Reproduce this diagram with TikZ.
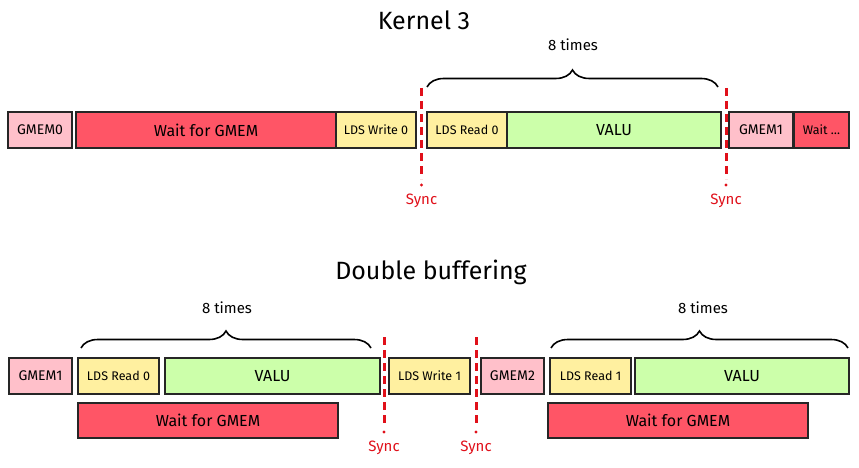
\documentclass[tikz,border=0pt]{standalone}
\usepackage{fontspec}
\setmainfont{Fira Sans}
\usetikzlibrary{decorations.pathreplacing}

\definecolor{gmemc}{HTML}{FFC0CA}
\definecolor{waitc}{HTML}{FF5566}
\definecolor{ldsc}{HTML}{FFF0A0}
\definecolor{valuc}{HTML}{CCFFAA}
\definecolor{syncc}{HTML}{E0101A}

\tikzset{
  blk/.style={draw=black!85, line width=2.2pt, inner sep=0pt, minimum height=36pt,
    font=\fontsize{14}{14}\selectfont},
  gmem/.style={blk, fill=gmemc},
  waitbox/.style={blk, fill=waitc, font=\fontsize{16}{16}\selectfont},
  lds/.style={blk, fill=ldsc, font=\fontsize{12.5}{12.5}\selectfont},
  valu/.style={blk, fill=valuc, font=\fontsize{16}{16}\selectfont},
  syncline/.style={draw=syncc, line width=3pt, dash pattern=on 8pt off 5pt},
  synclbl/.style={text=syncc, font=\fontsize{15}{15}\selectfont},
  loopbrace/.style={decorate, decoration={brace, amplitude=17pt}, line width=1.6pt},
  looplbl/.style={font=\fontsize{15}{15}\selectfont},
  heading/.style={font=\fontsize{25}{25}\selectfont}
}

\begin{document}
\begin{tikzpicture}[x=1pt, y=-1pt]
\useasboundingbox (0,0) rectangle (859,468);
% Kernel 3
\node[heading] (title1) at (424,20) {Kernel 3};
\node[gmem, minimum width=64pt] (gmemA) at (40,130) {GMEM0};
\node[waitbox, minimum width=260pt] (waitA) at (206,130) {Wait for GMEM};
\node[lds, minimum width=80pt] (writeA) at (376,130) {LDS Write 0};
\node[lds, minimum width=80pt] (readA) at (467,130) {LDS Read 0};
\node[valu, minimum width=214pt] (valuA) at (614,130) {VALU};
\node[gmem, minimum width=64pt] (gmemB) at (761,130) {GMEM1};
\node[waitbox, minimum width=55pt, font=\fontsize{12.5}{12.5}\selectfont] (waitB) at (821.5,130) {Wait \dots};
% Loop brace
\coordinate (braceAl) at (427,87);
\coordinate (braceAr) at (718,87);
\draw[loopbrace] (braceAl) -- (braceAr);
\node[looplbl] (timesA) at (573,45) {8 times};
% Sync lines
\coordinate (syncAt) at (421.5,88);
\coordinate (syncAb) at (421.5,179);
\draw[syncline] (syncAt) -- (syncAb);
\fill[syncc] (421.5,185) circle (1.6pt);
\node[synclbl] (syncA) at (421.5,201) {Sync};
\coordinate (syncBt) at (726,88);
\coordinate (syncBb) at (726,179);
\draw[syncline] (syncBt) -- (syncBb);
\fill[syncc] (726,185) circle (1.6pt);
\node[synclbl] (syncB) at (726,201) {Sync};

% Double buffering
\node[heading] (title2) at (431,272) {Double buffering};
\node[gmem, minimum width=63pt] (gmemC) at (40.5,376) {GMEM1};
\node[lds, minimum width=81pt] (readC) at (118.5,376) {LDS Read 0};
\node[valu, minimum width=215pt] (valuC) at (272.5,376) {VALU};
\node[lds, minimum width=81pt] (writeC) at (429.5,376) {LDS Write 1};
\node[gmem, minimum width=63pt] (gmemD) at (512.5,376) {GMEM2};
\node[lds, minimum width=81pt] (readD) at (590.5,376) {LDS Read 1};
\node[valu, minimum width=214pt] (valuD) at (742,376) {VALU};
\node[waitbox, minimum width=260pt, minimum height=35pt] (waitC) at (208,420.5) {Wait for GMEM};
\node[waitbox, minimum width=260pt, minimum height=35pt] (waitD) at (678,420.5) {Wait for GMEM};
% Loop braces
\coordinate (braceCl) at (81,348);
\coordinate (braceCr) at (371,348);
\draw[loopbrace] (braceCl) -- (braceCr);
\node[looplbl] (timesC) at (227,308) {8 times};
\coordinate (braceDl) at (551,348);
\coordinate (braceDr) at (848,348);
\draw[loopbrace] (braceDl) -- (braceDr);
\node[looplbl] (timesD) at (703,308) {8 times};
% Sync lines
\coordinate (syncCt) at (384,337);
\coordinate (syncCb) at (384,427);
\draw[syncline] (syncCt) -- (syncCb);
\fill[syncc] (384,432) circle (1.6pt);
\node[synclbl] (syncC) at (384,448) {Sync};
\coordinate (syncDt) at (476,337);
\coordinate (syncDb) at (476,427);
\draw[syncline] (syncDt) -- (syncDb);
\fill[syncc] (476,432) circle (1.6pt);
\node[synclbl] (syncD) at (476,448) {Sync};
\end{tikzpicture}
\end{document}
